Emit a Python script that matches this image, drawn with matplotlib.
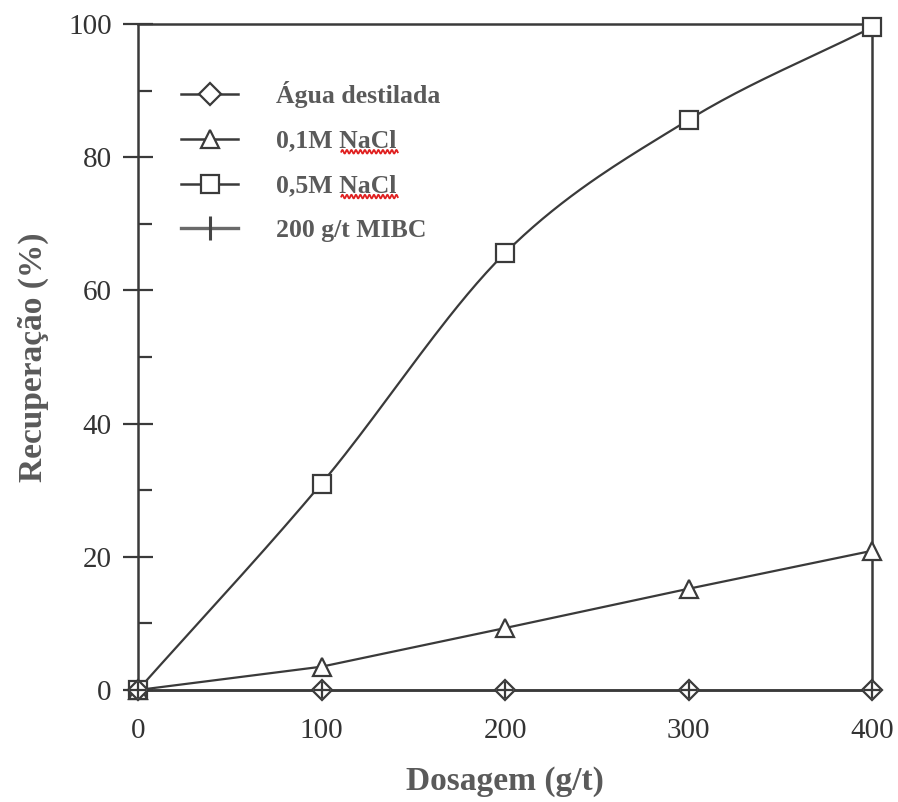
import numpy as np
import matplotlib
matplotlib.use("Agg")
import matplotlib.pyplot as plt
from matplotlib.lines import Line2D
from matplotlib.textpath import TextPath
from matplotlib.font_manager import FontProperties
from matplotlib.transforms import IdentityTransform

# Dosage (g/t) and recovery (%) for each condition
dosagem = [0, 100, 200, 300, 400]
agua_destilada = [0, 0, 0, 0, 0]
nacl_01m = [0, 3.5, 9.3, 15.2, 20.9]
nacl_05m = [0, 31.0, 65.6, 85.6, 99.5]
mibc_200 = [0, 0, 0, 0, 0]

labels = ["Água destilada", "0,1M NaCl", "0,5M NaCl", "200 g/t MIBC"]
xticks = [0, 100, 200, 300, 400]
yticks = [0, 20, 40, 60, 80, 100]

plt.rcParams["font.family"] = ["Liberation Serif", "DejaVu Serif"]

LINE = "#3a3a3a"
TXT = "#5a5a5a"


def smooth(x, y, n=40, tension=0.0):
    """Cardinal spline through the given points (for drawing a smooth line)."""
    x = np.asarray(x, float)
    y = np.asarray(y, float)
    px = np.concatenate([[2 * x[0] - x[1]], x, [2 * x[-1] - x[-2]]])
    py = np.concatenate([[2 * y[0] - y[1]], y, [2 * y[-1] - y[-2]]])
    s = (1 - tension) / 2
    xs, ys = [], []
    t = np.linspace(0, 1, n)
    h1 = 2 * t**3 - 3 * t**2 + 1
    h2 = -2 * t**3 + 3 * t**2
    h3 = t**3 - 2 * t**2 + t
    h4 = t**3 - t**2
    for i in range(1, len(px) - 2):
        mx0 = s * (px[i + 1] - px[i - 1]); my0 = s * (py[i + 1] - py[i - 1])
        mx1 = s * (px[i + 2] - px[i]); my1 = s * (py[i + 2] - py[i])
        xs.append(h1 * px[i] + h2 * px[i + 1] + h3 * mx0 + h4 * mx1)
        ys.append(h1 * py[i] + h2 * py[i + 1] + h3 * my0 + h4 * my1)
    return np.concatenate(xs), np.concatenate(ys)


fig = plt.figure(figsize=(8.98, 8.02), dpi=100)
ax = fig.add_axes([138 / 898, 1 - 690 / 802, (872 - 138) / 898, (690 - 24) / 802])

mk = dict(markerfacecolor="white", markeredgecolor=LINE, markeredgewidth=1.6)

# 0.5M NaCl (smooth curve)
sx, sy = smooth(dosagem, nacl_05m)
ax.plot(sx, sy, color=LINE, lw=1.6, zorder=2, clip_on=False)
ax.plot(dosagem, nacl_05m, ls="none", marker="s", markersize=13, zorder=4,
        clip_on=False, **mk)

# 0.1M NaCl
ax.plot(dosagem, nacl_01m, color=LINE, lw=1.6, zorder=2, clip_on=False)
ax.plot(dosagem, nacl_01m, ls="none", marker="^", markersize=13, zorder=4,
        clip_on=False, **mk)

# distilled water and MIBC
ax.plot(dosagem, agua_destilada, color=LINE, lw=1.8, marker="D", markersize=10,
        zorder=5, clip_on=False, **mk)
ax.plot(dosagem, mibc_200, color="#555555", lw=1.6, ls="none", marker="+",
        markersize=12, markeredgewidth=1.6, markeredgecolor=LINE, zorder=6,
        clip_on=False)

ax.set_xlim(0, 400)
ax.set_ylim(0, 100)
ax.set_xticks(xticks)
ax.set_yticks(yticks)
ax.set_yticks(np.arange(10, 100, 20), minor=True)
ax.tick_params(axis="x", length=0, pad=20, labelsize=21, labelcolor="#333333")
ax.tick_params(axis="y", which="major", direction="inout", length=22, width=1.6,
               color=LINE, pad=8, labelsize=21, labelcolor="#333333")
ax.tick_params(axis="y", which="minor", direction="in", length=10, width=1.6,
               color=LINE)
for sp in ax.spines.values():
    sp.set_color(LINE)
    sp.set_linewidth(1.8)

ax.set_xlabel("Dosagem (g/t)", fontsize=24, fontweight="bold", color=TXT, labelpad=16)
ax.set_ylabel("Recuperação (%)", fontsize=24, fontweight="bold", color=TXT, labelpad=14)

handles = [
    Line2D([], [], color=LINE, lw=1.8, marker="D", markersize=11, **mk),
    Line2D([], [], color=LINE, lw=1.8, marker="^", markersize=13, **mk),
    Line2D([], [], color=LINE, lw=1.8, marker="s", markersize=13, **mk),
    Line2D([], [], color="#6a6a6a", lw=2.4, marker="|", markersize=17,
           markeredgewidth=2.2, markeredgecolor="#444444"),
]
leg = ax.legend(handles, labels, loc="upper left", bbox_to_anchor=(0.045, 0.93),
                frameon=False, handlelength=2.2, handletextpad=1.5,
                labelspacing=0.85, borderaxespad=0,
                prop=dict(family="Liberation Serif", weight="bold", size=18.5))
for t in leg.get_texts():
    t.set_color(TXT)

# red spell-check underline beneath "NaCl"
fig.canvas.draw()
renderer = fig.canvas.get_renderer()
fp = FontProperties(family="Liberation Serif", weight="bold", size=18.5)
for t in leg.get_texts():
    s = t.get_text()
    if "NaCl" not in s:
        continue
    bb = t.get_window_extent(renderer)
    full = TextPath((0, 0), s, prop=fp).get_extents().width
    pre = TextPath((0, 0), s[: s.index("NaCl")] + "x", prop=fp).get_extents().width \
        - TextPath((0, 0), "x", prop=fp).get_extents().width
    x0 = bb.x0 + (bb.x1 - bb.x0) * pre / full + 2
    x1 = bb.x1 + 1
    xx = np.linspace(x0, x1, 200)
    yy = bb.y0 + 1 + 1.8 * np.sin((xx - x0) / 4.5 * 2 * np.pi)
    fig.add_artist(Line2D(xx, yy, color="#e02020", lw=1.3, transform=IdentityTransform()))

fig.savefig("out.png", dpi=100, facecolor="white")
